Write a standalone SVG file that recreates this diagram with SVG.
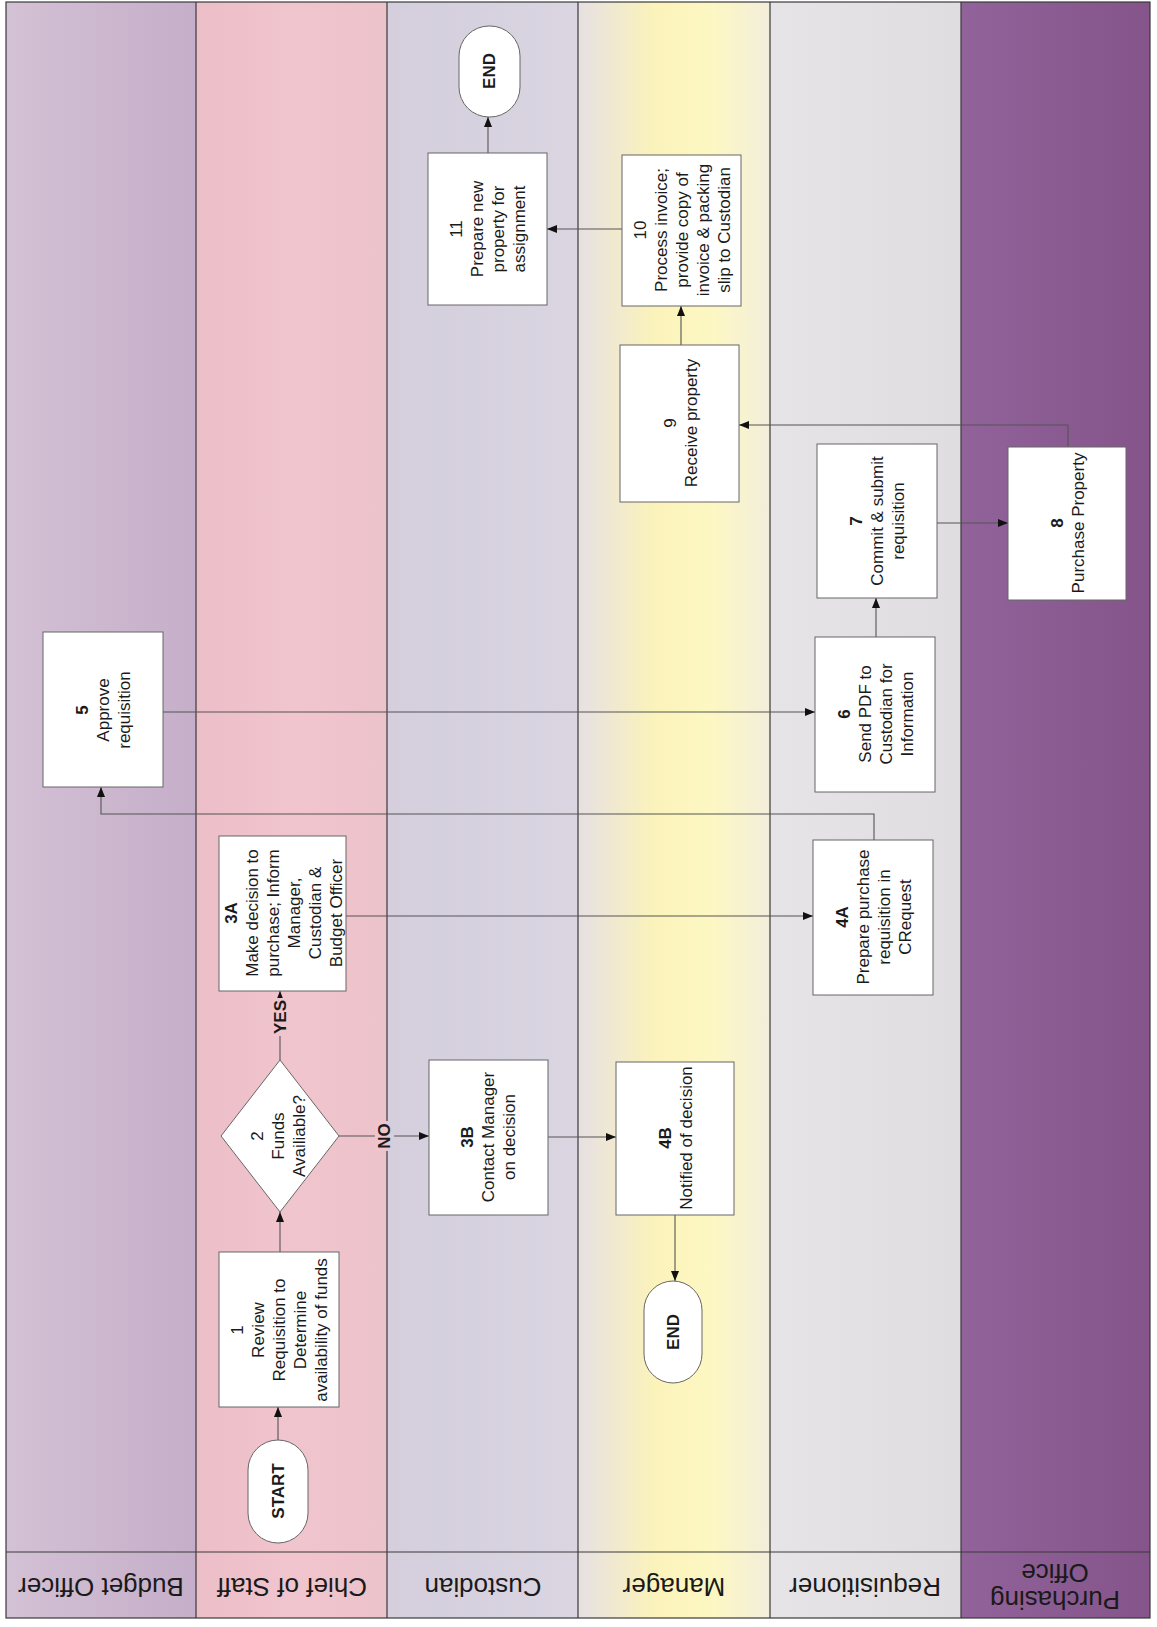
<svg xmlns="http://www.w3.org/2000/svg" width="1157" height="1627" viewBox="0 0 1157 1627">
<defs>
<linearGradient id="gBud" x1="0" y1="0" x2="1" y2="0"><stop offset="0" stop-color="#d3c1d5"/><stop offset="1" stop-color="#c5aec9"/></linearGradient>
<linearGradient id="gChief" x1="0" y1="0" x2="1" y2="0"><stop offset="0" stop-color="#ecbec8"/><stop offset="0.5" stop-color="#f1c5cd"/><stop offset="1" stop-color="#ecc2cb"/></linearGradient>
<linearGradient id="gCus" x1="0" y1="0" x2="1" y2="0"><stop offset="0" stop-color="#d4cedd"/><stop offset="1" stop-color="#dad5e1"/></linearGradient>
<linearGradient id="gMan" x1="0" y1="0" x2="1" y2="0"><stop offset="0" stop-color="#e7e0e3"/><stop offset="0.4" stop-color="#fbf3ba"/><stop offset="0.7" stop-color="#fdf7c3"/><stop offset="1" stop-color="#f2eedb"/></linearGradient>
<linearGradient id="gReq" x1="0" y1="0" x2="1" y2="0"><stop offset="0" stop-color="#e6e4e6"/><stop offset="1" stop-color="#e0dde0"/></linearGradient>
<linearGradient id="gPur" x1="0" y1="0" x2="1" y2="0"><stop offset="0" stop-color="#91639a"/><stop offset="1" stop-color="#84548a"/></linearGradient>
<marker id="arr" viewBox="0 0 10 10" refX="10" refY="5" markerWidth="10" markerHeight="10" markerUnits="userSpaceOnUse" orient="auto"><path d="M0,1 L10,5 L0,9 z" fill="#111"/></marker>
<style>
.lane-line{stroke:#3a3a3a;stroke-width:1.2;fill:none}
.box{fill:#ffffff;stroke:#666;stroke-width:1}
.conn{fill:none;stroke:#555;stroke-width:1.1;marker-end:url(#arr)}
.t{font-family:"Liberation Sans",Arial,sans-serif;font-size:17px;fill:#1a1a1a;text-anchor:middle}
.b{font-weight:bold}
.lbl{font-family:"Liberation Sans",Arial,sans-serif;font-size:26px;fill:#1a1a1a;text-anchor:middle}
</style>
</defs>

<g id="lanes">
<rect x="6" y="2" width="190" height="1616" fill="url(#gBud)"/>
<rect x="196" y="2" width="191" height="1616" fill="url(#gChief)"/>
<rect x="387" y="2" width="191" height="1616" fill="url(#gCus)"/>
<rect x="578" y="2" width="192" height="1616" fill="url(#gMan)"/>
<rect x="770" y="2" width="191" height="1616" fill="url(#gReq)"/>
<rect x="961" y="2" width="189" height="1616" fill="url(#gPur)"/>
<rect x="6" y="2" width="1144" height="1616" class="lane-line"/>
<line x1="196" y1="2" x2="196" y2="1618" class="lane-line"/>
<line x1="387" y1="2" x2="387" y2="1618" class="lane-line"/>
<line x1="578" y1="2" x2="578" y2="1618" class="lane-line"/>
<line x1="770" y1="2" x2="770" y2="1618" class="lane-line"/>
<line x1="961" y1="2" x2="961" y2="1618" class="lane-line"/>
<line x1="6" y1="1552" x2="1150" y2="1552" class="lane-line"/>
<text class="lbl" transform="translate(101 1587) rotate(180)" y="9">Budget Officer</text>
<text class="lbl" transform="translate(292 1587) rotate(180)" y="9">Chief of Staff</text>
<text class="lbl" transform="translate(483 1587) rotate(180)" y="9">Custodian</text>
<text class="lbl" transform="translate(674 1587) rotate(180)" y="9">Manager</text>
<text class="lbl" transform="translate(865 1587) rotate(180)" y="9">Requisitioner</text>
<text class="lbl" transform="translate(1055 1587) rotate(180)"><tspan x="0" y="-4">Purchasing</tspan><tspan x="0" y="23">Office</tspan></text>
</g>

<g id="connectors">
<path class="conn" d="M278,1440 V1407"/>
<path class="conn" d="M280,1252 V1212"/>
<path class="conn" d="M280,1060 V991"/>
<path class="conn" d="M339,1136 H429"/>
<path class="conn" d="M548,1137 H616"/>
<path class="conn" d="M675,1215 V1281"/>
<path class="conn" d="M346,916 H813"/>
<path class="conn" d="M874,840 V814 H101 V787"/>
<path class="conn" d="M163,712 H815"/>
<path class="conn" d="M876,637 V598"/>
<path class="conn" d="M937,523 H1008"/>
<path class="conn" d="M1068,447 V425 H739"/>
<path class="conn" d="M681,345 V306"/>
<path class="conn" d="M622,229 H547"/>
<path class="conn" d="M488,153 V117"/>
<rect x="271" y="998" width="18" height="38" fill="#f0c4cc"/>
<text class="t b" transform="translate(280 1017) rotate(-90)" y="6">YES</text>
<rect x="375" y="1121" width="12" height="30" fill="#f0c4cc"/>
<rect x="387" y="1121" width="7" height="30" fill="#d4cedd"/>
<text class="t b" transform="translate(384 1136) rotate(-90)" y="6">NO</text>
</g>

<g id="start">
<rect x="248" y="1440" width="60" height="103" rx="30" class="box"/>
<text class="t b" transform="translate(278 1491) rotate(-90)" y="6">START</text>
</g>

<g id="n1">
<rect x="219" y="1252" width="120" height="155" class="box"/>
<text class="t" transform="translate(279 1330) rotate(-90)"><tspan x="0" y="-36">1</tspan><tspan x="0" y="-15">Review</tspan><tspan x="0" y="6">Requisition to</tspan><tspan x="0" y="27">Determine</tspan><tspan x="0" y="48">availability of funds</tspan></text>
</g>

<g id="n2">
<polygon points="280,1060 339,1136 280,1212 221,1136" class="box"/>
<text class="t" transform="translate(278 1136) rotate(-90)"><tspan x="0" y="-15">2</tspan><tspan x="0" y="6">Funds</tspan><tspan x="0" y="27">Availiable?</tspan></text>
</g>

<g id="n3a">
<rect x="219" y="836" width="127" height="155" class="box"/>
<text class="t" transform="translate(283 913) rotate(-90)"><tspan x="0" y="-46.5" class="b">3A</tspan><tspan x="0" y="-25.5">Make decision to</tspan><tspan x="0" y="-4.5">purchase; Inform</tspan><tspan x="0" y="16.5">Manager,</tspan><tspan x="0" y="37.5">Custodian &amp;</tspan><tspan x="0" y="58.5">Budget Officer</tspan></text>
</g>

<g id="n3b">
<rect x="429" y="1060" width="119" height="155" class="box"/>
<text class="t" transform="translate(488 1137) rotate(-90)"><tspan x="0" y="-15" class="b">3B</tspan><tspan x="0" y="6">Contact Manager</tspan><tspan x="0" y="27">on decision</tspan></text>
</g>

<g id="n4b">
<rect x="616" y="1062" width="118" height="153" class="box"/>
<text class="t" transform="translate(675 1138) rotate(-90)"><tspan x="0" y="-4.5" class="b">4B</tspan><tspan x="0" y="16.5">Notified of decision</tspan></text>
</g>

<g id="end1">
<rect x="644" y="1281" width="58" height="102" rx="29" class="box"/>
<text class="t b" transform="translate(673 1332) rotate(-90)" y="6">END</text>
</g>

<g id="n4a">
<rect x="813" y="840" width="120" height="155" class="box"/>
<text class="t" transform="translate(873 917) rotate(-90)"><tspan x="0" y="-25.5" class="b">4A</tspan><tspan x="0" y="-4.5">Prepare purchase</tspan><tspan x="0" y="16.5">requisition in</tspan><tspan x="0" y="37.5">CRequest</tspan></text>
</g>

<g id="n5">
<rect x="43" y="632" width="120" height="155" class="box"/>
<text class="t" transform="translate(103 710) rotate(-90)"><tspan x="0" y="-15" class="b">5</tspan><tspan x="0" y="6">Approve</tspan><tspan x="0" y="27">requisition</tspan></text>
</g>

<g id="n6">
<rect x="815" y="637" width="120" height="155" class="box"/>
<text class="t" transform="translate(875 714) rotate(-90)"><tspan x="0" y="-25.5" class="b">6</tspan><tspan x="0" y="-4.5">Send PDF to</tspan><tspan x="0" y="16.5">Custodian for</tspan><tspan x="0" y="37.5">Information</tspan></text>
</g>

<g id="n7">
<rect x="817" y="444" width="120" height="154" class="box"/>
<text class="t" transform="translate(877 521) rotate(-90)"><tspan x="0" y="-15" class="b">7</tspan><tspan x="0" y="6">Commit &amp; submit</tspan><tspan x="0" y="27">requisition</tspan></text>
</g>

<g id="n8">
<rect x="1008" y="447" width="118" height="153" class="box"/>
<text class="t" transform="translate(1067 523) rotate(-90)"><tspan x="0" y="-4.5" class="b">8</tspan><tspan x="0" y="16.5">Purchase Property</tspan></text>
</g>

<g id="n9">
<rect x="620" y="345" width="119" height="157" class="box"/>
<text class="t" transform="translate(680 423) rotate(-90)"><tspan x="0" y="-4.5">9</tspan><tspan x="0" y="16.5">Receive property</tspan></text>
</g>

<g id="n10">
<rect x="622" y="155" width="119" height="151" class="box"/>
<text class="t" transform="translate(682 230) rotate(-90)"><tspan x="0" y="-36">10</tspan><tspan x="0" y="-15">Process invoice;</tspan><tspan x="0" y="6">provide copy of</tspan><tspan x="0" y="27">invoice &amp; packing</tspan><tspan x="0" y="48">slip to Custodian</tspan></text>
</g>

<g id="n11">
<rect x="428" y="153" width="119" height="152" class="box"/>
<text class="t" transform="translate(487 229) rotate(-90)"><tspan x="0" y="-25.5">11</tspan><tspan x="0" y="-4.5">Prepare new</tspan><tspan x="0" y="16.5">property for</tspan><tspan x="0" y="37.5">assignment</tspan></text>
</g>

<g id="end2">
<rect x="459" y="26" width="61" height="91" rx="30" class="box"/>
<text class="t b" transform="translate(489 71) rotate(-90)" y="6">END</text>
</g>
</svg>
